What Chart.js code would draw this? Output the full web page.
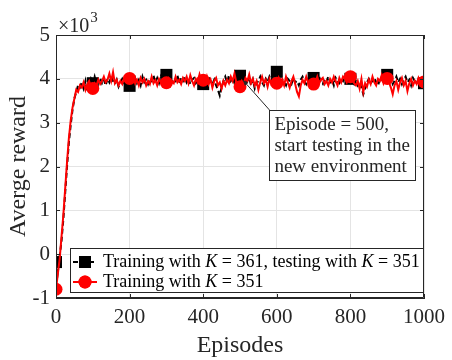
<!DOCTYPE html>
<html>
<head>
<meta charset="utf-8">
<script src="https://cdn.jsdelivr.net/npm/chart.js@4/dist/chart.umd.min.js"></script>
<style>
  html, body { margin: 0; padding: 0; background: #fff; }
  #wrap { width: 452px; height: 360px; }
</style>
</head>
<body>
<div id="wrap"><canvas id="c" width="452" height="360"></canvas></div>
<script>
// Average reward per episode (in units of 10^3), sampled every STEP episodes.
const STEP = 5;
const MARKER_EVERY = 100;

// Trained with K = 361, tested with K = 351 from episode 500 on
const rewardK361 = [
  -0.18, -0.40, -0.05, 0.30, 0.80, 1.40, 2.00, 2.55, 2.95, 3.30,
  3.55, 3.70, 3.85, 3.80, 3.92, 3.78, 3.95, 3.70, 3.85, 4.00,
  3.90, 4.05, 3.88, 3.95, 4.02, 3.90, 3.98, 3.85, 4.00, 3.92,
  4.05, 3.95, 3.88, 3.98, 3.82, 3.92, 4.00, 3.90, 3.85, 3.92,
  3.84, 3.95, 3.88, 4.02, 3.90, 3.98, 3.85, 4.05, 3.92, 3.98,
  3.88, 4.00, 3.95, 4.08, 3.92, 4.02, 3.90, 4.05, 3.95, 4.05,
  4.09, 3.98, 4.05, 3.92, 4.00, 3.95, 4.08, 3.90, 4.02, 3.95,
  4.05, 3.92, 4.00, 3.88, 3.98, 4.02, 3.90, 3.97, 3.88, 3.95,
  3.88, 3.98, 3.92, 4.05, 3.95, 3.88, 3.98, 3.85, 3.75, 3.62,
  3.80, 3.95, 4.05, 3.92, 4.08, 3.95, 4.02, 3.90, 3.98, 4.05,
  4.07, 3.92, 4.00, 3.88, 3.95, 4.02, 3.85, 3.98, 3.78, 3.90,
  3.95, 4.05, 3.92, 3.85, 4.00, 3.92, 4.05, 3.95, 4.08, 4.12,
  4.16, 4.02, 3.90, 3.98, 3.92, 3.85, 4.00, 3.95, 3.88, 4.02,
  3.92, 3.95, 3.85, 3.98, 4.05, 3.95, 3.88, 4.00, 4.05, 3.98,
  4.02, 3.90, 3.98, 4.05, 3.92, 3.88, 4.00, 3.95, 4.05, 3.92,
  3.98, 3.85, 4.02, 3.95, 3.90, 4.00, 3.95, 4.05, 3.98, 3.92,
  4.00, 3.95, 3.88, 3.98, 3.85, 3.92, 3.80, 3.65, 3.78, 3.92,
  4.00, 3.90, 3.95, 4.02, 3.92, 3.85, 3.98, 4.05, 4.10, 4.05,
  4.09, 3.95, 4.02, 3.88, 3.95, 4.05, 3.92, 4.00, 3.88, 3.98,
  4.05, 3.92, 3.98, 3.85, 4.02, 3.95, 3.88, 4.00, 3.95, 3.90,
  3.90
];

// Trained with K = 351
const rewardK351 = [
  -0.80, -0.45, -0.10, 0.40, 0.90, 1.50, 2.10, 2.65, 3.05, 3.35,
  3.55, 3.75, 3.70, 3.85, 3.80, 3.92, 3.75, 3.88, 3.95, 3.80,
  3.78, 3.90, 3.85, 3.98, 3.88, 3.95, 4.05, 3.92, 3.98, 4.12,
  3.95, 4.15, 3.90, 3.98, 3.85, 3.95, 3.88, 4.02, 3.95, 4.05,
  4.01, 3.95, 4.05, 3.90, 3.98, 3.85, 4.02, 3.92, 4.00, 3.85,
  3.95, 3.88, 4.05, 3.90, 3.97, 3.85, 4.00, 3.92, 3.88, 3.98,
  3.91, 4.00, 3.85, 3.95, 3.90, 4.05, 3.92, 3.98, 3.88, 4.02,
  3.95, 4.05, 3.90, 4.08, 3.95, 3.85, 4.00, 3.92, 4.10, 3.95,
  3.97, 3.90, 4.05, 3.88, 3.98, 3.80, 3.95, 4.02, 3.85, 3.92,
  3.78, 3.95, 3.85, 3.98, 3.90, 4.05, 3.95, 4.12, 3.92, 3.85,
  3.82, 3.95, 3.88, 4.02, 3.95, 4.10, 3.90, 4.00, 3.85, 3.95,
  3.75, 3.92, 4.05, 3.90, 3.98, 3.82, 4.00, 3.88, 3.95, 3.92,
  3.90, 4.02, 3.88, 3.98, 3.85, 4.05, 3.92, 3.80, 3.95, 4.05,
  3.88, 3.70, 3.60, 3.85, 3.98, 3.90, 4.05, 3.92, 3.85, 3.95,
  3.88, 3.92, 4.05, 3.90, 3.98, 4.02, 3.88, 3.95, 3.85, 4.00,
  3.92, 4.05, 3.95, 3.85, 4.02, 3.92, 4.05, 4.00, 3.92, 4.05,
  4.05, 3.98, 3.90, 3.85, 3.95, 3.78, 4.00, 3.70, 3.90, 3.82,
  3.98, 3.88, 4.05, 3.92, 3.85, 4.00, 3.95, 4.08, 3.90, 4.00,
  4.01, 3.92, 3.80, 3.65, 3.85, 3.95, 3.75, 3.92, 4.02, 3.85,
  3.95, 3.72, 3.90, 4.00, 3.85, 3.95, 3.88, 4.02, 3.92, 3.98,
  3.93
];

const xTicks = [0, 200, 400, 600, 800, 1000];
const yTicks = [-1, 0, 1, 2, 3, 4, 5];

// Legend entries as [text, italic] runs
const legendK361 = [['Training with ', false], ['K', true], [' = 361, testing with ', false], ['K', true], [' = 351', false]];
const legendK351 = [['Training with ', false], ['K', true], [' = 351', false]];

const noteLines = ['Episode = 500,', 'start testing in the', 'new environment'];
const xTitle = 'Episodes';
const yTitle = 'Averge reward';

const SERIF = "'Liberation Serif', 'Times New Roman', serif";
const INK = '#262626';

const toPoints = vals => vals.map((v, i) => ({ x: i * STEP, y: v }));
const markerRadius = r => ctx => (ctx.raw && ctx.raw.x % MARKER_EVERY === 0) ? r : 0;

function drawRuns(ctx, runs, x, y, size) {
  let cx = x;
  for (const [txt, it] of runs) {
    ctx.font = (it ? 'italic ' : '') + size + 'px ' + SERIF;
    ctx.fillText(txt, cx, y);
    cx += ctx.measureText(txt).width;
  }
}

const decorations = {
  id: 'decorations',
  afterDraw(chart) {
    const { ctx, chartArea: a, scales: { x, y } } = chart;
    ctx.save();

    // closed box and inward ticks
    ctx.strokeStyle = INK;
    ctx.lineWidth = 1;
    ctx.beginPath();
    ctx.rect(a.left + 0.5, a.top + 0.5, a.right - a.left - 1, a.bottom - a.top - 1);
    for (const v of xTicks) {
      const px = Math.round(x.getPixelForValue(v)) + 0.5;
      ctx.moveTo(px, a.bottom); ctx.lineTo(px, a.bottom - 4);
      ctx.moveTo(px, a.top); ctx.lineTo(px, a.top + 4);
    }
    for (const v of yTicks) {
      const py = Math.round(y.getPixelForValue(v)) + 0.5;
      ctx.moveTo(a.left, py); ctx.lineTo(a.left + 4, py);
      ctx.moveTo(a.right, py); ctx.lineTo(a.right - 4, py);
    }
    ctx.stroke();

    // exponent label
    ctx.fillStyle = INK;
    ctx.textBaseline = 'alphabetic';
    ctx.textAlign = 'left';
    ctx.font = '20px ' + SERIF;
    ctx.fillText('\u00d710', a.left + 2, 32);
    const w10 = ctx.measureText('\u00d710').width;
    ctx.font = '15px ' + SERIF;
    ctx.fillText('3', a.left + 3 + w10, 22);

    // axis titles
    ctx.font = '24px ' + SERIF;
    ctx.textAlign = 'center';
    ctx.textBaseline = 'middle';
    ctx.fillText(xTitle, (a.left + a.right) / 2, 346);
    ctx.save();
    ctx.translate(19, (a.top + a.bottom) / 2);
    ctx.rotate(-Math.PI / 2);
    ctx.fillText(yTitle, 0, 0);
    ctx.restore();

    // annotation: arrow and text box
    const tipX = x.getPixelForValue(508), tipY = y.getPixelForValue(3.97);
    const bx0 = x.getPixelForValue(580), by0 = y.getPixelForValue(3.29);
    const bx1 = x.getPixelForValue(978), by1 = y.getPixelForValue(1.69);
    ctx.strokeStyle = INK;
    ctx.lineWidth = 1;
    ctx.beginPath();
    ctx.moveTo(bx0, by0);
    ctx.lineTo(tipX, tipY);
    ctx.stroke();
    const ang = Math.atan2(tipY - by0, tipX - bx0);
    ctx.fillStyle = INK;
    ctx.beginPath();
    ctx.moveTo(tipX, tipY);
    ctx.lineTo(tipX - 6 * Math.cos(ang - 0.4), tipY - 6 * Math.sin(ang - 0.4));
    ctx.lineTo(tipX - 6 * Math.cos(ang + 0.4), tipY - 6 * Math.sin(ang + 0.4));
    ctx.closePath();
    ctx.fill();

    ctx.fillStyle = '#fff';
    ctx.fillRect(bx0, by0, bx1 - bx0, by1 - by0);
    ctx.strokeRect(Math.round(bx0) + 0.5, Math.round(by0) + 0.5, Math.round(bx1 - bx0), Math.round(by1 - by0));
    ctx.fillStyle = INK;
    ctx.textAlign = 'left';
    ctx.textBaseline = 'middle';
    ctx.font = '19px ' + SERIF;
    noteLines.forEach((t, i) => ctx.fillText(t, bx0 + 5, by0 + 15 + i * 21));

    // legend
    const lx0 = 70, ly0 = 248, lx1 = a.right, ly1 = 293;
    ctx.fillStyle = '#fff';
    ctx.fillRect(lx0, ly0, lx1 - lx0, ly1 - ly0);
    ctx.strokeStyle = INK;
    ctx.strokeRect(lx0 + 0.5, ly0 + 0.5, lx1 - lx0 - 1, ly1 - ly0 - 1);
    const rows = [
      { runs: legendK361, color: '#000', dash: [5, 3], y: 262, style: 'rect', r: 8.5 },
      { runs: legendK351, color: '#ff0000', dash: [], y: 282, style: 'circle', r: 6.5 }
    ];
    for (const row of rows) {
      ctx.strokeStyle = row.color;
      ctx.lineWidth = 2;
      ctx.setLineDash(row.dash);
      ctx.beginPath();
      ctx.moveTo(73, row.y); ctx.lineTo(97, row.y);
      ctx.stroke();
      ctx.setLineDash([]);
      ctx.fillStyle = row.color;
      Chart.helpers.drawPoint(ctx, { pointStyle: row.style, radius: row.r, rotation: 0, borderWidth: 0 }, 85, row.y);
      ctx.fill();
      ctx.fillStyle = '#000';
      ctx.textBaseline = 'middle';
      drawRuns(ctx, row.runs, 103, row.y, 18);
    }
    ctx.restore();
  }
};

new Chart(document.getElementById('c'), {
  type: 'line',
  data: {
    datasets: [
      {
        label: 'K = 361 / 351',
        data: toPoints(rewardK361),
        borderColor: '#000',
        backgroundColor: '#000',
        borderWidth: 2,
        borderDash: [5, 3],
        pointStyle: 'rect',
        pointRadius: markerRadius(8.5),
        pointHoverRadius: markerRadius(8.5),
        pointBorderWidth: 0,
        tension: 0,
        order: 2
      },
      {
        label: 'K = 351',
        data: toPoints(rewardK351),
        borderColor: '#ff0000',
        backgroundColor: '#ff0000',
        borderWidth: 2,
        pointStyle: 'circle',
        pointRadius: markerRadius(6.5),
        pointHoverRadius: markerRadius(6.5),
        pointBorderWidth: 0,
        tension: 0,
        order: 1
      }
    ]
  },
  options: {
    responsive: false,
    animation: false,
    devicePixelRatio: 1,
    events: [],
    layout: { padding: { top: 35, right: 24, left: 0, bottom: 0 } },
    plugins: { legend: { display: false }, tooltip: { enabled: false } },
    scales: {
      x: {
        type: 'linear', min: 0, max: 1000,
        afterBuildTicks: s => { s.ticks = xTicks.map(v => ({ value: v })); },
        afterFit: s => { s.height = 62; },
        grid: { color: '#e4e4e4', lineWidth: 1, drawTicks: false },
        border: { display: true, color: INK, width: 1 },
        ticks: { font: { family: SERIF, size: 21 }, color: INK, padding: 7, maxRotation: 0, callback: v => String(v) }
      },
      y: {
        type: 'linear', min: -1, max: 5,
        afterBuildTicks: s => { s.ticks = yTicks.map(v => ({ value: v })); },
        afterFit: s => { s.width = 56; },
        grid: { color: '#e4e4e4', lineWidth: 1, drawTicks: false },
        border: { display: true, color: INK, width: 1 },
        ticks: { font: { family: SERIF, size: 21 }, color: INK, padding: 6, callback: v => String(v) }
      }
    }
  },
  plugins: [decorations]
});
</script>
</body>
</html>
